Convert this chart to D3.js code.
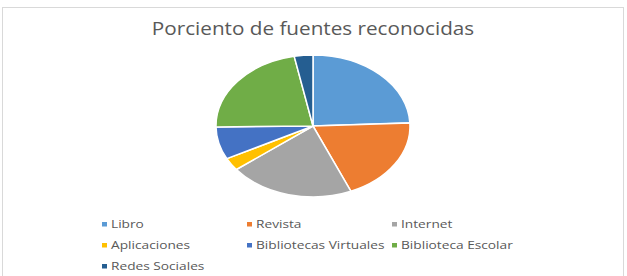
<!DOCTYPE html>
<html>
<head>
<meta charset="utf-8">
<script src="https://cdn.jsdelivr.net/npm/d3@7"></script>
<style>
  html, body { margin: 0; padding: 0; background: #fff; }
  svg { display: block; }
  text { font-family: "Open Sans", sans-serif; fill: #595959; }
</style>
</head>
<body>
<svg id="chart" width="627" height="276"></svg>
<script>
(() => {
  "use strict";

  // datos (porcentajes aprox.)
  const categories = ["Libro", "Revista", "Internet", "Aplicaciones", "Bibliotecas Virtuales", "Biblioteca Escolar", "Redes Sociales"];
  const values = [24.3, 19.3, 20.9, 2.9, 7.4, 22.1, 3.1];
  const colors = ["#5B9BD5", "#ED7D31", "#A5A5A5", "#FFC000", "#4472C4", "#70AD47", "#255E91"];
  const title = "Porciento de fuentes reconocidas";

  const H = 276;
  const svg = d3.select("#chart");
  const stretch = 1.27; // la imagen original está estirada a lo ancho

  // marco del gráfico
  svg.append("rect")
    .attr("x", 2.5).attr("y", 7.5)
    .attr("width", 621).attr("height", H)
    .attr("fill", "#fff")
    .attr("stroke", "#d9d9d9").attr("stroke-width", 1);

  svg.append("text")
    .attr("transform", `translate(313,35) scale(1.15,1)`)
    .attr("text-anchor", "middle")
    .attr("font-size", 18)
    .text(title);

  // pastel elíptico: se dibuja en un círculo y se escala
  const cx = 313, cy = 126, rx = 97, ry = 71, r = 100;
  const pie = d3.pie().sort(null).value(d => d);
  const arc = d3.arc().innerRadius(0).outerRadius(r);

  svg.append("g")
    .attr("transform", `translate(${cx},${cy}) scale(${rx / r},${ry / r})`)
    .selectAll("path")
    .data(pie(values))
    .join("path")
    .attr("d", arc)
    .attr("fill", (d, i) => colors[i])
    .attr("stroke", "#fff")
    .attr("stroke-width", 1.5)
    .attr("vector-effect", "non-scaling-stroke");

  // leyenda en 3 columnas
  const colX = d3.scalePoint().domain([0, 1, 2]).range([102, 392]);
  const rowY = d3.scalePoint().domain([0, 1, 2]).range([224, 266]);

  const items = svg.append("g")
    .selectAll("g")
    .data(categories)
    .join("g")
    .attr("transform", (d, i) => `translate(${colX(i % 3)},${rowY(Math.floor(i / 3))})`);

  items.append("rect")
    .attr("x", 0).attr("y", -2)
    .attr("width", 5).attr("height", 4.5)
    .attr("fill", (d, i) => colors[i]);

  items.append("text")
    .attr("transform", `translate(9,4) scale(${stretch},1)`)
    .attr("font-size", 10.8)
    .text(d => d);
})();
</script>
</body>
</html>
